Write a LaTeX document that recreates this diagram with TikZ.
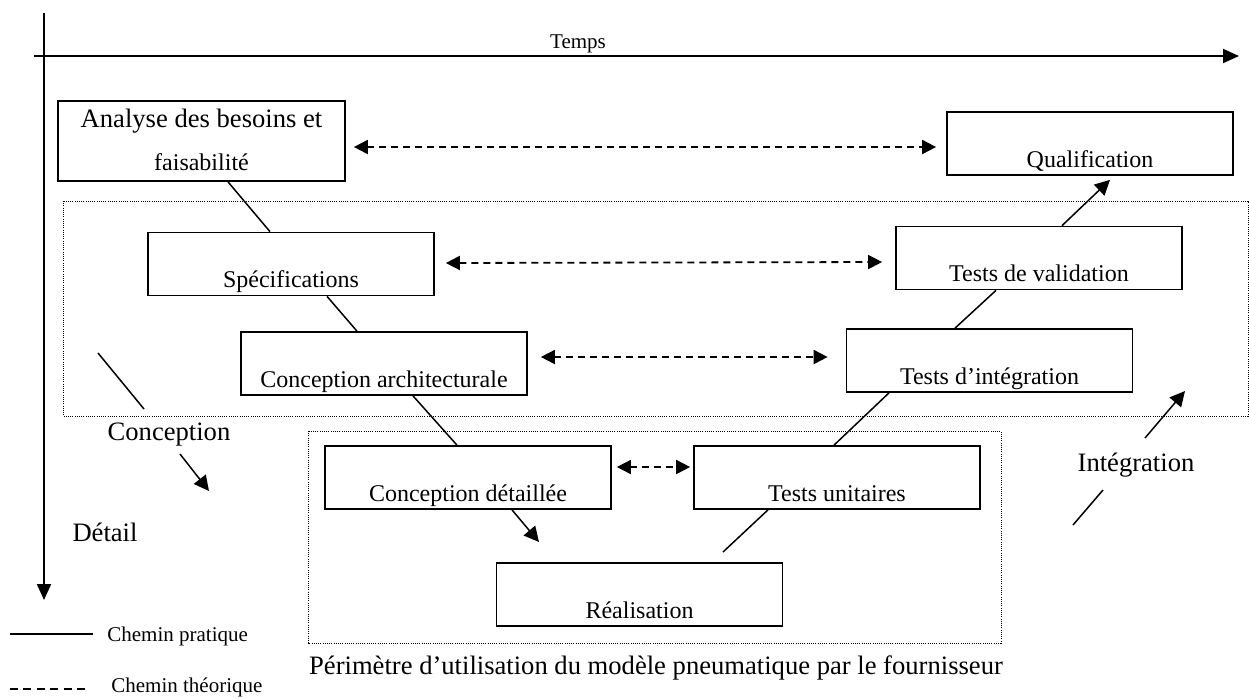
\documentclass[tikz,border=0pt]{standalone}
\usepackage{fontspec}
\setmainfont{Liberation Serif}
\usetikzlibrary{arrows.meta,calc}
\newcommand\fbig{\fontsize{13.3}{16}\selectfont}
\newcommand\fnorm{\fontsize{12}{14}\selectfont}
\newcommand\fsmall{\fontsize{10.5}{12.5}\selectfont}
\tikzset{
  stagebox/.style={draw, line width=0.85pt, minimum width=143pt, inner ysep=0pt, inner xsep=2pt,
    text height=27.5pt, text depth=4pt, font=\fnorm},
  axisline/.style={line width=1pt, -{Triangle[length=8pt,width=7pt]}},
  pathline/.style={line width=0.75pt},
  patharrow/.style={line width=0.75pt, -{Triangle[length=7.5pt,width=7.5pt]}},
  theory/.style={line width=0.9pt, dash pattern=on 3.5pt off 2.5pt,
    {Triangle[length=7pt,width=7pt]}-{Triangle[length=7pt,width=7pt]}},
  perim/.style={line width=0.5pt, dash pattern=on 0.5pt off 0.6pt},
  lbl/.style={inner sep=0pt, font=\fbig},
  smalllbl/.style={inner sep=0pt, font=\fsmall, anchor=west}
}
\begin{document}
\begin{tikzpicture}[x=0.5pt,y=-0.5pt]
\useasboundingbox (0,0) rectangle (1249,698);

% axes
\coordinate (vtop) at (44,13);
\coordinate (vend) at (44,600);
\coordinate (hstart) at (34,56);
\coordinate (hend) at (1239,56);
\draw[axisline] (vtop) -- (vend);
\draw[axisline] (hstart) -- (hend);
\node[inner sep=0pt, font=\fsmall] (temps) at (578,44) {Temps};

% perimeter rectangles
\draw[perim] (63,201) rectangle (1248,416);
\draw[perim] (308,431) rectangle (1001,643);

% boxes
\node[draw, line width=0.85pt, minimum width=143.5pt, minimum height=40pt, inner sep=0pt] (ana) at (201.5,141) {};
\node[inner sep=0pt, font=\fbig, anchor=base] (ana1) at (201.5,127) {Analyse des besoins et};
\node[inner sep=0pt, font=\fnorm, anchor=base] (ana2) at (201.5,170) {faisabilité};
\node[stagebox] (spec) at (291,264) {Spécifications};
\node[stagebox] (ca) at (384,363.5) {Conception architecturale};
\node[stagebox] (cd) at (468,477.5) {Conception détaillée};
\node[stagebox] (rea) at (639.5,594.5) {Réalisation};
\node[stagebox] (tu) at (837,477.5) {Tests unitaires};
\node[stagebox] (ti) at (989.5,360.5) {Tests d’intégration};
\node[stagebox] (tv) at (1039,258) {Tests de validation};
\node[stagebox] (qual) at (1090,143.5) {Qualification};

% practical path
\draw[pathline] ($(ana.south)+(26.5,0)$) -- ($(spec.north)+(-21,0)$);
\draw[pathline] ($(spec.south)+(36,0)$) -- ($(ca.north)+(-27,0)$);
\draw[pathline] ($(ca.south)+(29,0)$) -- ($(cd.north)+(-11,0)$);
\coordinate (cdend) at (539,542);
\draw[patharrow] ($(cd.south)+(44,0)$) -- (cdend);
\coordinate (reastart) at (723,552);
\draw[pathline] (reastart) -- ($(tu.south)+(-69,0)$);
\draw[pathline] ($(tu.north)+(-3,0)$) -- ($(ti.south)+(-100.5,0)$);
\draw[pathline] ($(ti.north)+(-34.5,0)$) -- ($(tv.south)+(-43,0)$);
\draw[patharrow] ($(tv.north)+(23,0)$) -- ($(qual.south)+(20,4)$);

% theoretical path
\draw[theory] ($(ana.east)+(8,6)$) -- ($(qual.west)+(-10,3.5)$);
\draw[theory] ($(spec.east)+(11,-1)$) -- ($(tv.west)+(-13,4)$);
\draw[theory] ($(ca.east)+(13,-6.5)$) -- ($(ti.west)+(-18,-3.5)$);
\draw[theory] ($(cd.east)+(5,-10.5)$) -- ($(tu.west)+(-3,-10.5)$);

% side labels
\coordinate (cl1) at (98,353);
\coordinate (cl2) at (144,409);
\draw[pathline] (cl1) -- (cl2);
\node[lbl] (conc) at (169,435) {Conception};
\coordinate (ca1) at (180,454);
\coordinate (ca2) at (209,491);
\draw[patharrow] (ca1) -- (ca2);
\node[lbl] (detail) at (105,532) {Détail};

\node[lbl] (integ) at (1136,465) {Intégration};
\coordinate (ia1) at (1145,438);
\coordinate (ia2) at (1185,391);
\draw[patharrow] (ia1) -- (ia2);
\coordinate (il1) at (1073,525);
\coordinate (il2) at (1103,490);
\draw[pathline] (il1) -- (il2);

% perimeter caption
\node[lbl] (perimcap) at (656,668) {Périmètre d’utilisation du modèle pneumatique par le fournisseur};

% legend
\coordinate (lg1a) at (10,634);
\coordinate (lg1b) at (93,634);
\draw[line width=0.8pt] (lg1a) -- (lg1b);
\node[smalllbl] (lgt1) at (107,636) {Chemin pratique};
\coordinate (lg2a) at (10,689);
\coordinate (lg2b) at (88,689);
\draw[line width=0.8pt, dash pattern=on 4pt off 2.7pt] (lg2a) -- (lg2b);
\node[smalllbl] (lgt2) at (111,687) {Chemin théorique};
\end{tikzpicture}
\end{document}
